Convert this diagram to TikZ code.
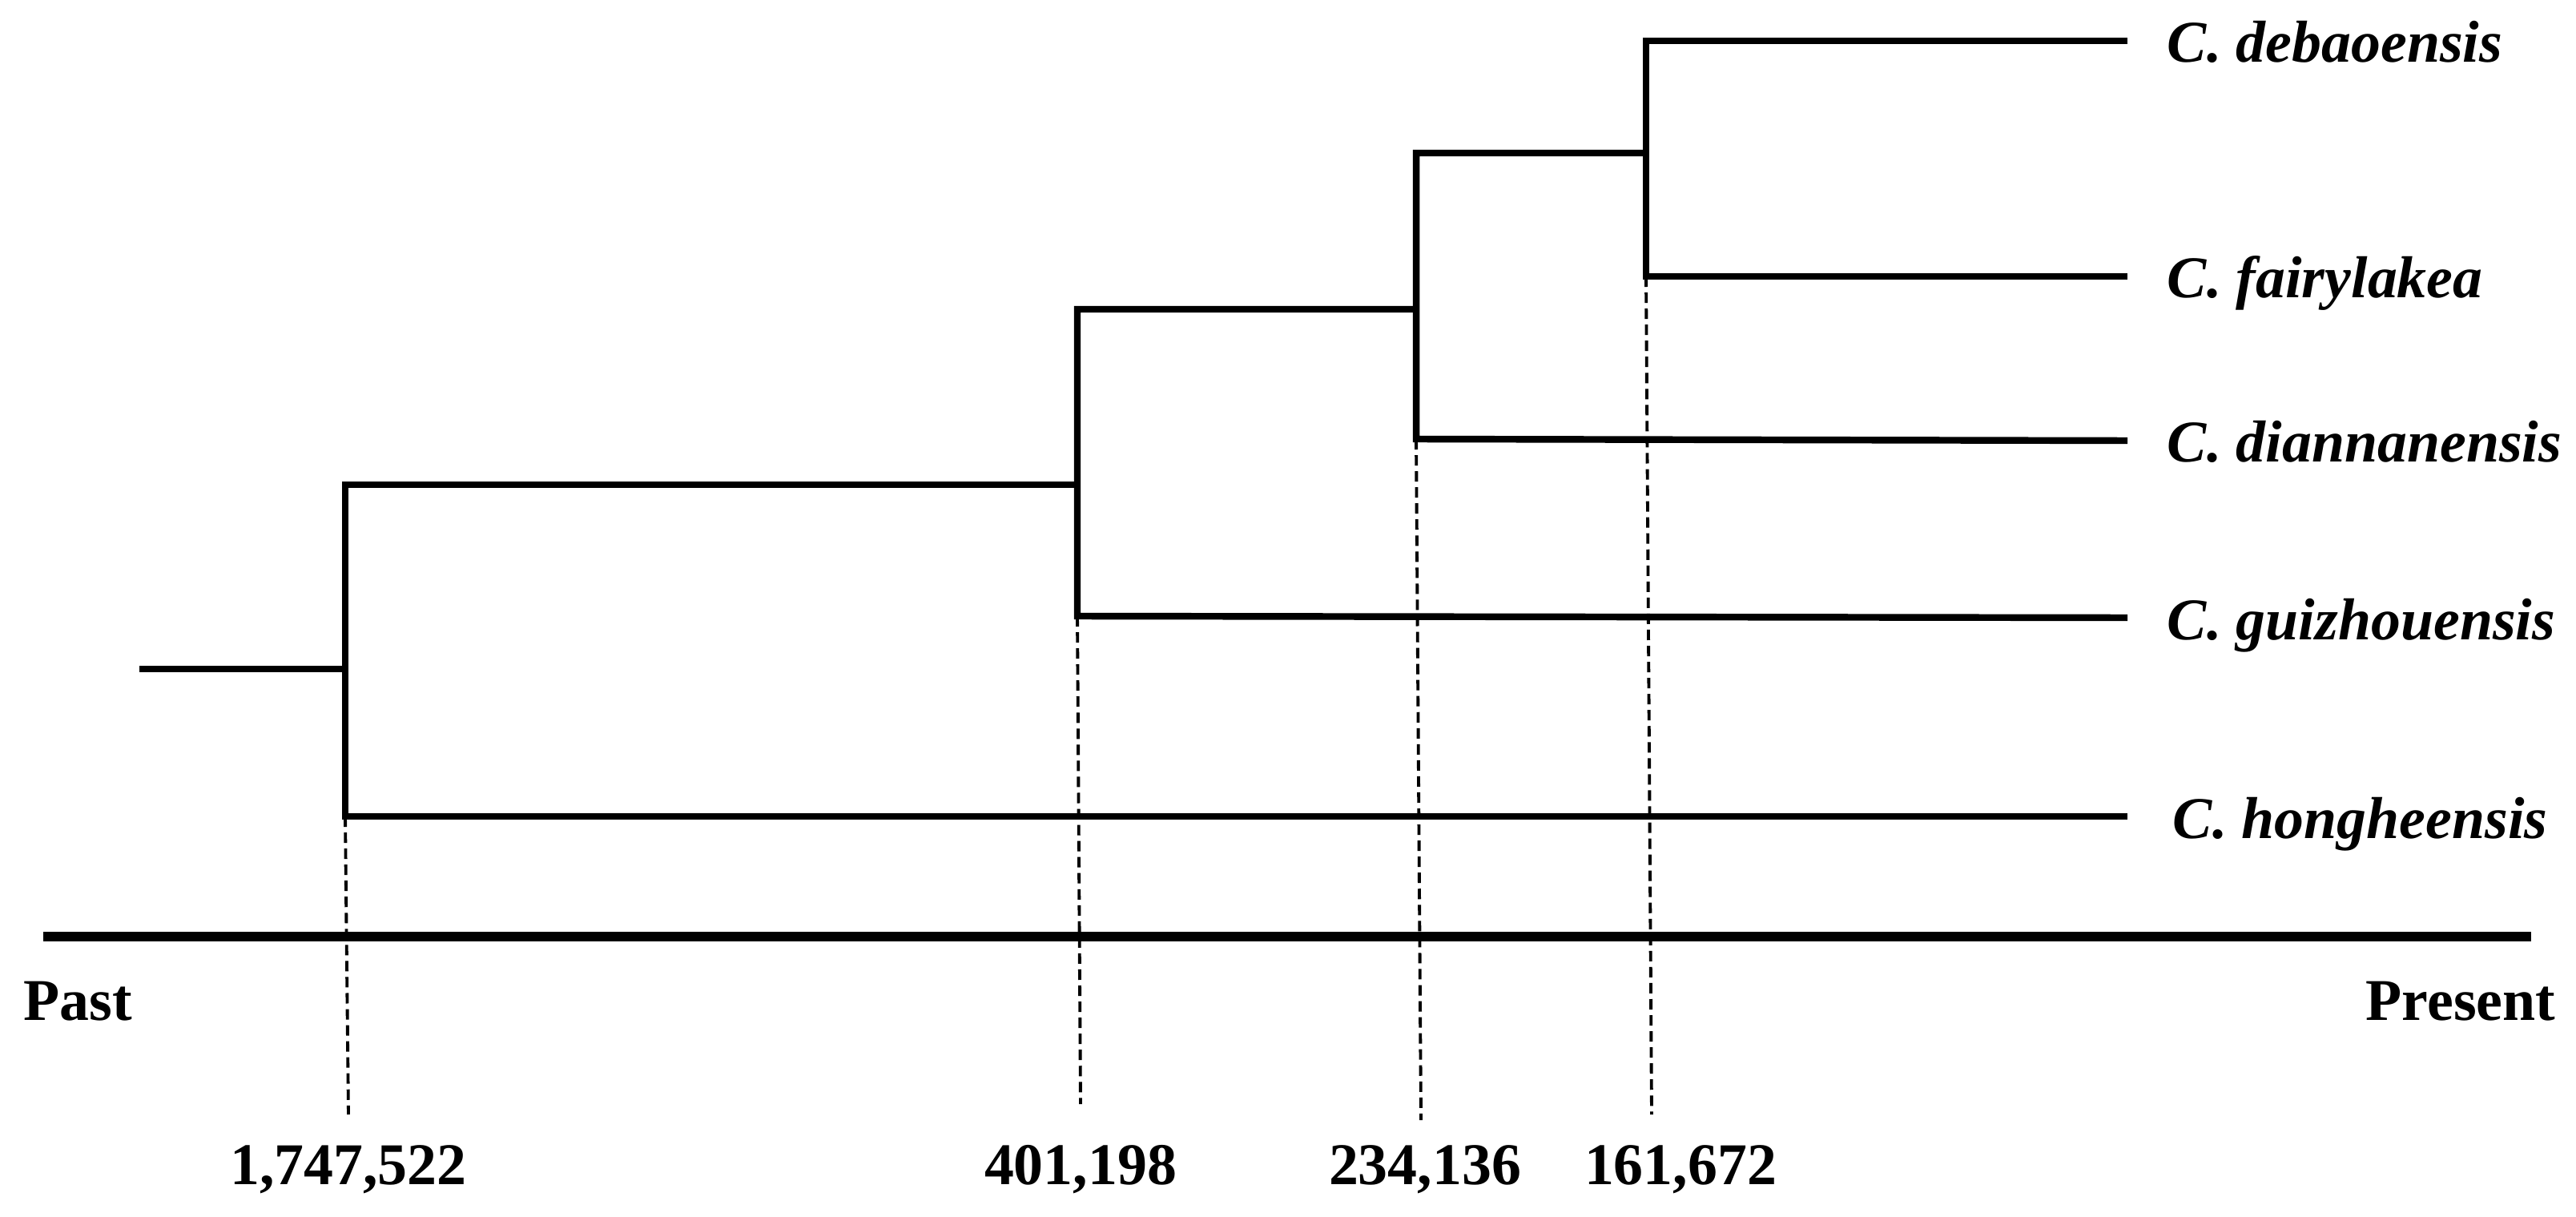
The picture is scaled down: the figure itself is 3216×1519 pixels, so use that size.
\documentclass[tikz,border=0pt]{standalone}
\usepackage{fontspec}
\setmainfont{Liberation Serif}
\begin{document}
\begin{tikzpicture}[x=0.01cm,y=-0.01cm,
  branch/.style={line width=2.4pt, line join=miter},
  axisline/.style={line width=3.2pt},
  guide/.style={line width=1.1pt, dash pattern=on 3.7pt off 2pt},
  taxon/.style={anchor=base west, inner sep=0pt, font=\fontsize{21pt}{25pt}\selectfont\bfseries\itshape},
  agelab/.style={anchor=base, inner sep=0pt, font=\fontsize{21pt}{25pt}\selectfont\bfseries},
  axlab/.style={inner sep=0pt, font=\fontsize{21pt}{25pt}\selectfont\bfseries}]
\useasboundingbox (0,0) rectangle (3216,1519);
% internal nodes
\coordinate (root) at (174,835);
\coordinate (A) at (431,835);
\coordinate (Atop) at (431,605);
\coordinate (Abot) at (431,1019);
\coordinate (B) at (1345,605);
\coordinate (Btop) at (1345,386);
\coordinate (Bbot) at (1345,769);
\coordinate (C) at (1768,386);
\coordinate (Ctop) at (1768,191);
\coordinate (Cbot) at (1768,548);
\coordinate (D) at (2055,191);
\coordinate (Dtop) at (2055,51);
\coordinate (Dbot) at (2055,345);
% leaf ends
\coordinate (eDeb) at (2656,51);
\coordinate (eFair) at (2656,345);
\coordinate (eDian) at (2656,550);
\coordinate (eGuiz) at (2656,771);
\coordinate (eHong) at (2656,1019);
% taxa
\node[taxon] (tDeb) at (2705,78) {C. debaoensis};
\node[taxon] (tFair) at (2705,372) {C. fairylakea};
\node[taxon] (tDian) at (2705,577) {C. diannanensis};
\node[taxon] (tGuiz) at (2705,798) {C. guizhouensis};
\node[taxon] (tHong) at (2712,1046) {C. hongheensis};
% tree
\draw[branch] (root) -- (A);
\draw[branch] (B) -- (Atop) -- (Abot) -- (eHong);
\draw[branch] (C) -- (Btop) -- (Bbot) -- (eGuiz);
\draw[branch] (D) -- (Ctop) -- (Cbot) -- (eDian);
\draw[branch] (eDeb) -- (Dtop) -- (Dbot) -- (eFair);
% time axis
\coordinate (axL) at (54,1169);
\coordinate (axR) at (3160,1169);
\draw[axisline] (axL) -- (axR);
\node[axlab, anchor=base west] (past) at (29,1273) {Past};
\node[axlab, anchor=base east] (present) at (3191,1273) {Present};
% dashed guides
\coordinate (gA) at (435,1391);
\coordinate (gB) at (1349,1378);
\coordinate (gC) at (1774,1398);
\coordinate (gD) at (2062,1391);
\draw[guide] (Abot) -- (gA);
\draw[guide] (Bbot) -- (gB);
\draw[guide] (Cbot) -- (gC);
\draw[guide] (Dbot) -- (gD);
% ages
\node[agelab] (ageA) at (435,1478) {1,747,522};
\node[agelab] (ageB) at (1349,1478) {401,198};
\node[agelab] (ageC) at (1779,1478) {234,136};
\node[agelab] (ageD) at (2098,1478) {161,672};
\end{tikzpicture}
\end{document}
